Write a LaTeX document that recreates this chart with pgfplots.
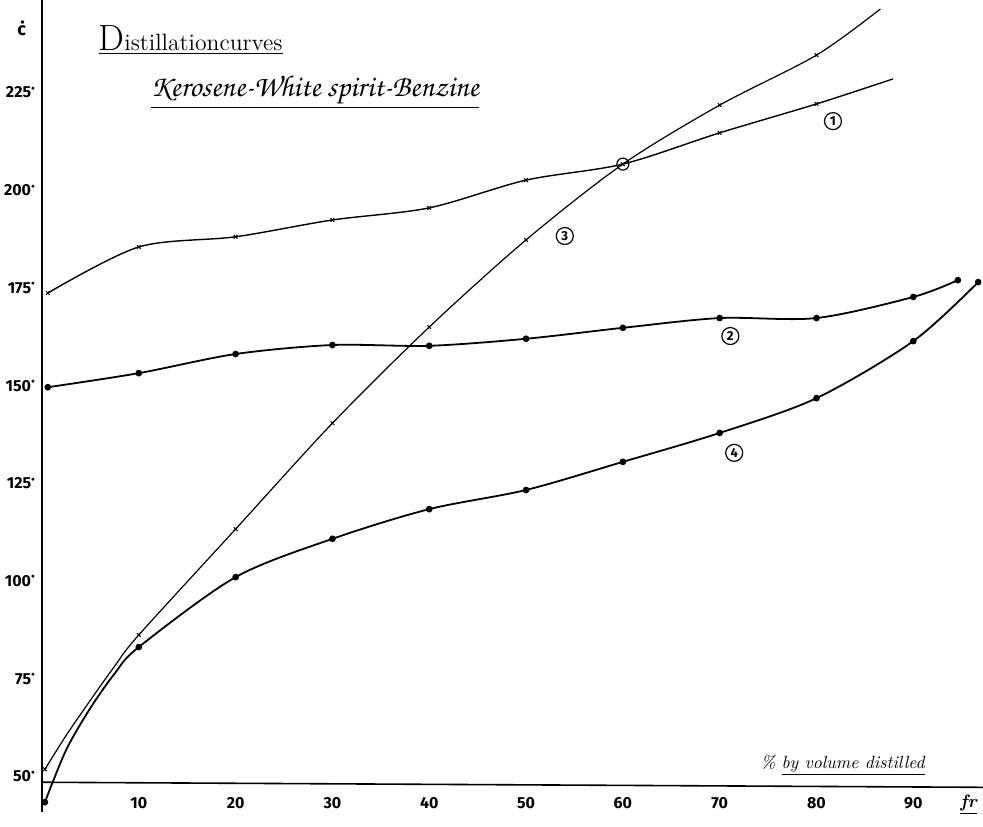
\documentclass[border=0pt]{standalone}
\usepackage{fontspec}
\usepackage{pgfplots}
\pgfplotsset{compat=1.18}
\newfontfamily\tickfont{Fira Sans}
\IfFontExistsTF{TeX Gyre Chorus}
  {\newfontfamily\chorus{TeX Gyre Chorus}}
  {\newcommand\chorus{\itshape}}
\newcommand\degdot{\raisebox{0.9ex}{\scalebox{0.45}{$\bullet$}}}
\begin{document}
\begin{tikzpicture}
\begin{axis}[name=ax,
  scale only axis, width=470.5pt, height=413pt,
  xmin=0, xmax=97.2, ymin=37.3, ymax=248.7,
  clip=false,
  axis line style={draw=none},
  major tick length=0pt,
  /pgf/number format/assume math mode=true,
  xtick={10,20,...,90},
  ytick={50,75,...,225},
  xticklabel={\pgfmathprintnumber{\tick}},
  yticklabel={\pgfmathprintnumber{\tick}\degdot},
  xticklabel style={anchor=center, yshift=11.5pt, font=\tickfont\bfseries\fontsize{8}{9}\selectfont},
  yticklabel style={font=\tickfont\bfseries\fontsize{8}{9}\selectfont},
]
% axes drawn by hand on the sheet
\draw[line width=0.8pt] (axis cs:0,41) -- (axis cs:0,248.7);
\draw[line width=0.8pt] (axis cs:0,48.5) -- (axis cs:97.2,47.2);

% curve 1
\addplot[black, line width=0.7pt, smooth, mark=x, mark size=1.3pt, mark indices={1,2,3,4,5,6,7,8,9}, mark options={line width=0.5pt}]
 coordinates {(0.6,173.7) (10,185.5) (20,188.1) (30,192.4) (40,195.5) (50,202.6) (60,206.7) (70,214.7) (80,222.1) (87.9,228.5)};
% curve 3
\addplot[black, line width=0.6pt, smooth, mark=x, mark size=1.3pt, mark indices={1,5,6,7,8,9,10,11,12}, mark options={line width=0.5pt}]
 coordinates {(0.3,51.8) (2.5,60.5) (5,69.5) (7.5,78.2) (10,86.2) (20,113.3) (30,140.4) (40,165.0) (50,187.3) (60,206.7) (70,221.8) (80,234.6) (86.6,246.4)};
% curve 2
\addplot[black, line width=0.9pt, smooth, mark=*, mark size=1.2pt]
 coordinates {(0.6,149.6) (10,153.2) (20,158.1) (30,160.4) (40,160.2) (50,162.0) (60,164.8) (70,167.3) (80,167.3) (90,172.7) (94.6,177.0)};
% curve 4
\addplot[black, line width=0.9pt, smooth, mark=*, mark size=1.2pt, mark indices={1,5,6,7,8,9,10,11,12,13,14}]
 coordinates {(0.3,43.4) (2.5,56.8) (5,67.5) (7.5,76.3) (10,83.1) (20,101.0) (30,110.8) (40,118.4) (50,123.3) (60,130.5) (70,137.9) (80,146.8) (90,161.4) (96.7,176.5)};
% intersection point
\addplot[only marks, mark=o, mark size=3pt, mark options={line width=0.6pt}] coordinates {(60,206.7)};

% labels
\node[font=\tickfont\bfseries\fontsize{9}{9}\selectfont] at (axis cs:-2.1,241.5) {\.c};
\node[anchor=base west, inner sep=0pt] at (axis cs:5.8,235.9)
  {\resizebox{92pt}{!}{\underline{{\fontsize{17}{17}\selectfont D}{\fontsize{11}{11}\selectfont istillationcurves}}}};
\node[anchor=base west, inner sep=0pt] at (axis cs:11.2,223.9)
  {\resizebox{164pt}{!}{\chorus\fontsize{14}{14}\selectfont\underline{Kerosene-White spirit-Benzine}}};
\node[anchor=base west, inner sep=0pt] at (axis cs:74.2,52.1)
  {\resizebox{82pt}{!}{\itshape\fontsize{10}{10}\selectfont \% \underline{by volume distilled}}};
\node[inner sep=0pt, font=\itshape\bfseries\fontsize{9}{9}\selectfont] at (axis cs:95.7,42.7) {\underline{fr}};

\tikzset{cnum/.style={circle, draw, line width=0.6pt, inner sep=0.3pt, minimum size=8.5pt, font=\tickfont\bfseries\fontsize{6.5}{6.5}\selectfont}}
\node[cnum] at (axis cs:81.7,217.7) {1};
\node[cnum] at (axis cs:71.1,162.7) {2};
\node[cnum] at (axis cs:54.0,188.3) {3};
\node[cnum] at (axis cs:71.5,132.8) {4};
\end{axis}
\pgfresetboundingbox
\path ([xshift=-21pt]ax.south west) rectangle (ax.north east);
\end{tikzpicture}
\end{document}
